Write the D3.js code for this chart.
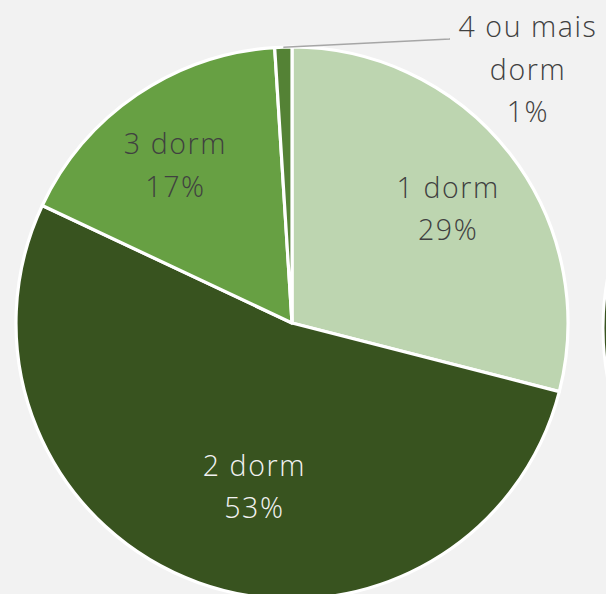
<!DOCTYPE html>
<html><head><meta charset="utf-8">
<script src="https://cdn.jsdelivr.net/npm/d3@7/dist/d3.min.js"></script>
<style>
html,body{margin:0;padding:0;background:#f2f2f2;}
svg{display:block;}
text{font-family:"Open Sans","Liberation Sans",sans-serif;font-weight:300;}
</style></head>
<body><svg id="c" width="606" height="594"></svg>
<script>
const categories = ["1 dorm", "2 dorm", "3 dorm", "4 ou mais dorm"];
const values = [29, 53, 17, 1];
const labelLines = [["1 dorm","29%"],["2 dorm","53%"],["3 dorm","17%"],["4 ou mais","dorm","1%"]];
const colors = ["#bdd5b0", "#38531f", "#67a043", "#548235"];
const textColors = ["#404040", "#f2f2f2", "#404040", "#404040"];

const W = 606, H = 594;
const cx = 292, cy = 323, R = 276;
const svg = d3.select("#c");
svg.append("rect").attr("width", W).attr("height", H).attr("fill", "#f2f2f2");

// fragment of neighbouring chart at right edge
svg.append("circle").attr("cx", cx + 2*R + 35).attr("cy", cy + 5).attr("r", R)
  .attr("fill", "#38531f").attr("stroke", "#ffffff").attr("stroke-width", 3);

const pie = d3.pie().sort(null).value(d => d);
const arcs = pie(values);
const arc = d3.arc().innerRadius(0).outerRadius(R);
const g = svg.append("g").attr("transform", `translate(${cx},${cy})`);
g.selectAll("path").data(arcs).join("path")
  .attr("d", arc).attr("fill", (d,i) => colors[i])
  .attr("stroke", "#ffffff").attr("stroke-width", 3.2).attr("stroke-linejoin", "round");

// label placement: radius fraction and angle tweak per slice (layout only)
const labelRadius = [0.70, 0.61, 0.71, 1.0];
const labelAngleShift = [0.03, -0.12, -0.04, 0];
const lineH = 42.5, fs = 28.5;
arcs.forEach((d, i) => {
  let x, y;
  if (i === 3) {
    const a = (d.startAngle + d.endAngle) / 2;
    const px = Math.sin(a) * R, py = -Math.cos(a) * R;
    x = 236; y = -253;
    g.append("polyline")
      .attr("points", `${px},${py} ${x - 78},${y - 31} ${x - 79},${y - 31}`)
      .attr("fill", "none").attr("stroke", "#a6a6a6").attr("stroke-width", 1.5);
  } else {
    const a = (d.startAngle + d.endAngle) / 2 + labelAngleShift[i];
    const r = R * labelRadius[i];
    x = Math.sin(a) * r; y = -Math.cos(a) * r;
  }
  const lines = labelLines[i];
  const t = g.append("text").attr("text-anchor", "middle")
    .attr("fill", textColors[i]).attr("font-size", fs).attr("letter-spacing", 1.6);
  lines.forEach((s, k) => {
    t.append("tspan").attr("x", x)
      .attr("y", y + (k - (lines.length - 1) / 2) * lineH)
      .attr("dy", "0.35em").text(s);
  });
});
</script></body></html>
